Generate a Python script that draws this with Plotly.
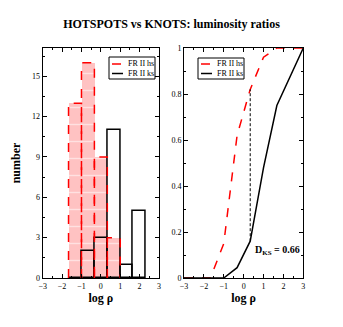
import plotly.graph_objects as go

# histogram bins (log rho) and counts
bin_edges = [-5/3, -1, -1/3, 1/3, 1, 5/3, 7/3]
hs_counts = [13, 16, 9, 3, 0, 0]
ks_counts = [0, 2, 3, 11, 1, 5]

# cumulative distributions
cdf_hs_x = [-3, -1.67, -1, -0.33, 0.33, 1, 1.67, 3]
cdf_hs_y = [0, 0, 0.15, 0.62, 0.82, 0.96, 1, 1]
cdf_ks_x = [-3, -1, -0.33, 0.33, 1, 1.67, 3]
cdf_ks_y = [0, 0, 0.045, 0.16, 0.48, 0.75, 1]

d_ks_x = 0.33
d_ks_lo, d_ks_hi = 0.16, 0.82
d_ks = 0.66

series_names = ["FR II hs", "FR II ks"]

FONT = "Liberation Serif, Times New Roman, serif"
RED = "#ff0000"
W, H = 343, 327
OFF = 8  # page body margin


def px_x(p):
    return (p - OFF) / W


def px_y(p):
    return 1 - (p - OFF) / H


def bar_geometry(edges, counts):
    centers = [(edges[i] + edges[i + 1]) / 2 for i in range(len(counts))]
    widths = [edges[i + 1] - edges[i] for i in range(len(counts))]
    return centers, widths


def outline(edges, counts):
    xs, ys = [], []
    for i, c in enumerate(counts):
        if c <= 0:
            continue
        a, b = edges[i], edges[i + 1]
        xs += [a, a, b, b, None]
        ys += [0, c, c, 0, None]
    return xs, ys


fig = go.Figure()

cx, w = bar_geometry(bin_edges, hs_counts)
fig.add_trace(go.Bar(
    x=cx, y=hs_counts, width=w, showlegend=False,
    marker=dict(color="#ffc2c2", line=dict(width=0),
                pattern=dict(shape="-", fgcolor="white", size=17,
                             solidity=0.08, fillmode="overlay")),
    xaxis="x", yaxis="y", hoverinfo="skip"))
ox, oy = outline(bin_edges, hs_counts)
fig.add_trace(go.Scatter(
    x=ox, y=oy, mode="lines", showlegend=False,
    line=dict(color=RED, width=1.5, dash="dash"),
    xaxis="x", yaxis="y"))

kx, kw = bar_geometry(bin_edges, ks_counts)
fig.add_trace(go.Bar(
    x=kx, y=ks_counts, width=kw, showlegend=False,
    marker=dict(color="rgba(0,0,0,0)", line=dict(color="black", width=1.5)),
    xaxis="x", yaxis="y", hoverinfo="skip"))

# right panel: cumulative
fig.add_trace(go.Scatter(
    x=cdf_hs_x, y=cdf_hs_y, mode="lines", showlegend=False,
    line=dict(color=RED, width=1.5, dash="dash"),
    xaxis="x2", yaxis="y2", cliponaxis=False))
fig.add_trace(go.Scatter(
    x=cdf_ks_x, y=cdf_ks_y, mode="lines", showlegend=False,
    line=dict(color="black", width=1.5),
    xaxis="x2", yaxis="y2", cliponaxis=False))
fig.add_trace(go.Scatter(
    x=[d_ks_x, d_ks_x], y=[d_ks_lo, d_ks_hi], mode="lines", showlegend=False,
    line=dict(color="black", width=1, dash="3px,2px"),
    xaxis="x2", yaxis="y2"))

axis_common = dict(
    showline=True, linecolor="black", linewidth=1, mirror="allticks",
    ticks="inside", ticklen=4, tickwidth=1, tickcolor="black",
    showgrid=False, zeroline=False, automargin=False,
    tickfont=dict(family=FONT, size=8, color="black"),
)
x_common = dict(axis_common, range=[-3, 3], tick0=-3, dtick=1,
                minor=dict(dtick=0.5, ticks="inside", ticklen=2, tickcolor="black"),
                title=dict(text="<b>log ρ</b>", font=dict(family=FONT, size=12, color="black"),
                           standoff=2))

# hand-drawn legends (small boxes as in the original)
shapes, annots = [], []
legend_boxes = [(109, 155, 57, 79), (198, 244, 58, 79)]
for (x0, x1, y0, y1) in legend_boxes:
    shapes.append(dict(type="rect", xref="paper", yref="paper",
                       x0=px_x(x0), x1=px_x(x1), y0=px_y(y0), y1=px_y(y1),
                       line=dict(color="black", width=1), fillcolor="white", layer="above"))
    for k, (name, col, dash) in enumerate(zip(series_names, [RED, "black"], ["dash", "solid"])):
        yy = px_y(64 + 9.5 * k)
        shapes.append(dict(type="line", xref="paper", yref="paper",
                           x0=px_x(x0 + 3), x1=px_x(x0 + 14), y0=yy, y1=yy,
                           line=dict(color=col, width=1.5, dash=dash), layer="above"))
        annots.append(dict(text=name, xref="paper", yref="paper", x=px_x(x0 + 17), y=yy,
                           xanchor="left", yanchor="middle", showarrow=False,
                           font=dict(family=FONT, size=8, color="black")))

annots.append(dict(text="<b>D<sub>KS</sub> = 0.66</b>", x=0.45, y=0.12,
                   xref="x2", yref="y2", xanchor="left", yanchor="middle",
                   showarrow=False, font=dict(family=FONT, size=10, color="black")))

fig.update_layout(
    width=W, height=H,
    margin=dict(l=0, r=0, t=0, b=0),
    paper_bgcolor="white", plot_bgcolor="white",
    font=dict(family=FONT, color="black"),
    barmode="overlay", bargap=0, showlegend=False,
    title=dict(text="<b>HOTSPOTS vs KNOTS: luminosity ratios</b>",
               x=px_x(171.5), xanchor="center", y=px_y(24), yanchor="middle",
               font=dict(family=FONT, size=12, color="black")),
    xaxis=dict(x_common, domain=[px_x(42.7), px_x(159)], anchor="y"),
    yaxis=dict(axis_common, domain=[px_y(278), px_y(48)], anchor="x", range=[0, 17.1],
               tick0=0, dtick=3,
               minor=dict(dtick=1.5, ticks="inside", ticklen=2, tickcolor="black"),
               title=dict(text="<b>number</b>", font=dict(family=FONT, size=12, color="black"),
                          standoff=8)),
    xaxis2=dict(x_common, domain=[px_x(184), px_x(303.3)], anchor="y2"),
    yaxis2=dict(axis_common, domain=[px_y(278), px_y(48)], anchor="x2", range=[0, 1],
                tick0=0, dtick=0.2,
                minor=dict(dtick=0.1, ticks="inside", ticklen=2, tickcolor="black")),
    shapes=shapes,
    annotations=annots,
)

fig.write_html("out.html")
